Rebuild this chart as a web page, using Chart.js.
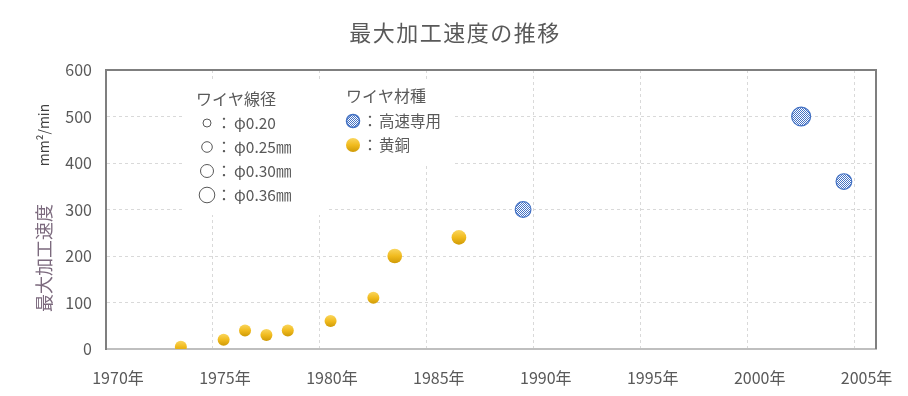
<!DOCTYPE html>
<html>
<head>
<meta charset="utf-8">
<script src="https://cdn.jsdelivr.net/npm/chart.js@4"></script>
<style>
  html, body { margin: 0; padding: 0; background: #fff; }
  #wrap { width: 908px; height: 396px; }
</style>
</head>
<body>
<div id="wrap"><canvas id="chart"></canvas></div>
<script>
const FONT = '"Noto Sans CJK JP", "Noto Sans", sans-serif';

// 黄銅ワイヤ
const brassYears = [1973.5, 1975.5, 1976.5, 1977.5, 1978.5, 1980.5, 1982.5, 1983.5, 1986.5];
const brassSpeed = [5, 20, 40, 30, 40, 60, 110, 200, 240];
const brassWire  = [0.25, 0.25, 0.25, 0.25, 0.25, 0.25, 0.25, 0.30, 0.30];

// 高速専用ワイヤ
const fastYears = [1989.5, 2002.5, 2004.5];
const fastSpeed = [300, 500, 360];
const fastWire  = [0.30, 0.36, 0.30];

const xTickYears = [1970, 1975, 1980, 1985, 1990, 1995, 2000, 2005];
const yTicks = [0, 100, 200, 300, 400, 500, 600];
const wireSizes = ['0.20', '0.25㎜', '0.30㎜', '0.36㎜'];

// wire diameter -> marker radius
const wireRadius = d => 6 + (d - 0.25) * 27;

const toPoints = (xs, ys, ws) => xs.map((x, i) => ({ x: x, y: ys[i], w: ws[i] }));

// checker pattern for the high-speed wire marker
function makePattern(ctx) {
  const c = document.createElement('canvas');
  c.width = 2; c.height = 2;
  const p = c.getContext('2d');
  p.fillStyle = '#ffffff';
  p.fillRect(0, 0, 2, 2);
  p.fillStyle = '#4472c4';
  p.fillRect(0, 0, 1, 1);
  p.fillRect(1, 1, 1, 1);
  return ctx.createPattern(c, 'repeat');
}

function goldGradient(ctx, y, r) {
  const g = ctx.createLinearGradient(0, y - r, 0, y + r);
  g.addColorStop(0, '#fad65e');
  g.addColorStop(0.5, '#f1bb1e');
  g.addColorStop(1, '#cf9a06');
  return g;
}

const canvas = document.getElementById('chart');
const pattern = makePattern(canvas.getContext('2d'));

const frame = {
  id: 'frame',
  beforeDatasetsDraw(chart) {
    const ctx = chart.ctx;
    // legend backgrounds hide the grid
    ctx.save();
    ctx.fillStyle = '#ffffff';
    ctx.fillRect(184, 82, 142, 133);
    ctx.fillRect(328, 82, 124, 82);
    ctx.restore();
  },
  afterDraw(chart) {
    const ctx = chart.ctx;
    const a = chart.chartArea;
    ctx.save();
    // top and right frame
    ctx.strokeStyle = '#7f7f7f';
    ctx.lineWidth = 2;
    ctx.beginPath();
    ctx.moveTo(a.left, a.top);
    ctx.lineTo(a.right, a.top);
    ctx.lineTo(a.right, a.bottom);
    ctx.stroke();

    // title
    ctx.textAlign = 'center';
    ctx.textBaseline = 'middle';
    ctx.fillStyle = '#595959';
    ctx.font = '22px ' + FONT;
    ctx.letterSpacing = '1.5px';
    ctx.fillText('最大加工速度の推移', 455, 33);
    ctx.letterSpacing = '0px';

    // y axis titles
    ctx.translate(44, 258);
    ctx.rotate(-Math.PI / 2);
    ctx.fillStyle = '#7c6a7e';
    ctx.font = '18px ' + FONT;
    ctx.fillText('最大加工速度', 0, 0);
    ctx.fillStyle = '#404040';
    ctx.font = '14px ' + FONT;
    ctx.fillText('mm²/min', 123, 0);
    ctx.setTransform(1, 0, 0, 1, 0, 0);

    // legend: wire diameter
    ctx.textAlign = 'left';
    ctx.fillStyle = '#595959';
    ctx.font = '16px ' + FONT;
    ctx.fillText('ワイヤ線径', 196, 99);
    ctx.font = '15.5px ' + FONT;
    const circR = [4, 5.3, 6.5, 7.8];
    wireSizes.forEach((s, i) => {
      const y = 123 + i * 24;
      ctx.strokeStyle = '#595959';
      ctx.lineWidth = 1;
      ctx.beginPath();
      ctx.arc(207, y, circR[i], 0, Math.PI * 2);
      ctx.stroke();
      ctx.textAlign = 'center';
      ctx.fillText('：', 224, y);
      ctx.textAlign = 'left';
      ctx.fillText('φ' + s, 234, y);
    });

    // legend: wire material
    ctx.font = '16px ' + FONT;
    ctx.fillText('ワイヤ材種', 346, 96);
    ctx.font = '15.5px ' + FONT;
    ctx.beginPath();
    ctx.arc(353, 121, 6.5, 0, Math.PI * 2);
    ctx.fillStyle = pattern;
    ctx.fill();
    ctx.strokeStyle = '#4472c4';
    ctx.lineWidth = 1.5;
    ctx.stroke();
    ctx.beginPath();
    ctx.arc(353, 145, 7, 0, Math.PI * 2);
    ctx.fillStyle = goldGradient(ctx, 145, 7);
    ctx.fill();
    ctx.fillStyle = '#595959';
    ctx.textAlign = 'center';
    ctx.fillText('：', 370, 121);
    ctx.fillText('：', 370, 145);
    ctx.textAlign = 'left';
    ctx.fillText('高速専用', 379, 121);
    ctx.fillText('黄銅', 379, 145);
    ctx.restore();
  }
};

new Chart(canvas, {
  type: 'scatter',
  data: {
    datasets: [
      {
        label: '黄銅',
        data: toPoints(brassYears, brassSpeed, brassWire),
        pointRadius: c => c.raw ? wireRadius(c.raw.w) : 6,
        borderWidth: 0,
        backgroundColor: c => {
          if (!c.raw) return '#f1bb1e';
          const y = c.chart.scales.y ? c.chart.scales.y.getPixelForValue(c.raw.y) : NaN;
          if (!isFinite(y)) return '#f1bb1e';
          return goldGradient(c.chart.ctx, y, wireRadius(c.raw.w));
        }
      },
      {
        label: '高速専用',
        data: toPoints(fastYears, fastSpeed, fastWire),
        pointRadius: c => c.raw ? wireRadius(c.raw.w) + 0.5 : 7,
        borderWidth: 1.2,
        borderColor: '#4472c4',
        backgroundColor: pattern
      }
    ]
  },
  options: {
    responsive: true,
    maintainAspectRatio: false,
    animation: false,
    events: [],
    layout: { padding: { left: 0, right: 32, top: 70, bottom: 0 } },
    plugins: {
      legend: { display: false },
      tooltip: { enabled: false },
      title: { display: false }
    },
    scales: {
      x: {
        type: 'linear',
        min: 1970,
        max: 2006,
        afterBuildTicks: s => { s.ticks = xTickYears.map(v => ({ value: v })); },
        afterFit: s => { s.height = 47; },
        grid: { color: '#d9d9d9', lineWidth: 1, drawTicks: false },
        border: { display: true, color: '#bfbfbf', width: 2, dash: [3, 3] },
        ticks: {
          color: '#595959',
          font: { family: FONT, size: 16 },
          padding: 19,
          labelOffset: 12,
          maxRotation: 0,
          callback: v => v + '年'
        }
      },
      y: {
        min: 0,
        max: 600,
        afterBuildTicks: s => { s.ticks = yTicks.map(v => ({ value: v })); },
        afterFit: s => { s.width = 106; },
        grid: { color: '#d9d9d9', lineWidth: 1, drawTicks: false },
        border: { display: true, color: '#7f7f7f', width: 2, dash: [3, 3] },
        ticks: {
          color: '#595959',
          font: { family: FONT, size: 16 },
          padding: 14
        }
      }
    }
  },
  plugins: [frame]
});
</script>
</body>
</html>
